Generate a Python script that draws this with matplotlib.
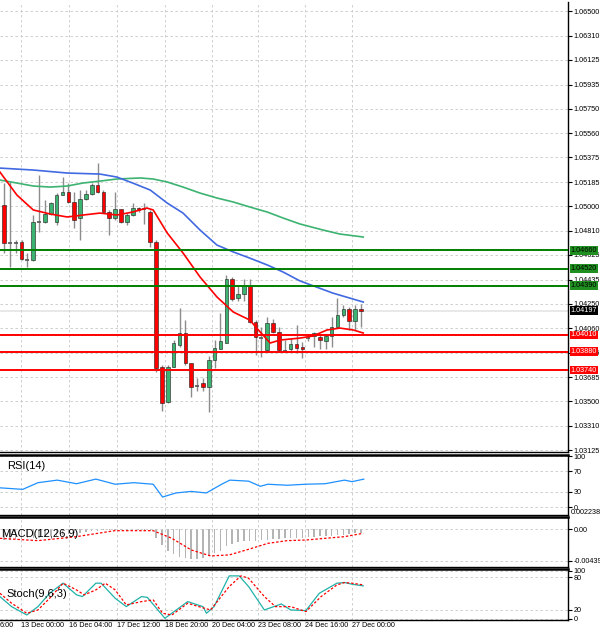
import matplotlib.pyplot as plt
import matplotlib.transforms as mtransforms
import numpy as np

plt.rcParams["font.family"] = "Liberation Sans"

# ---- candles (open, high, low, close) ----
opens = [1.05009, 1.04724, 1.04724, 1.04724, 1.04594, 1.04586, 1.04878, 1.04878, 1.04940, 1.04878,
         1.05086, 1.05109, 1.05032, 1.04909, 1.05055, 1.05094, 1.05163, 1.05109, 1.04955, 1.04909,
         1.04978, 1.04878, 1.04932, 1.04986, 1.04978, 1.04955, 1.04724, 1.03763, 1.03494, 1.03763,
         1.03933, 1.04025, 1.03794, 1.03625, 1.03641, 1.03610, 1.03817, 1.03902, 1.03948, 1.04440,
         1.04294, 1.04325, 1.04387, 1.04109, 1.03994, 1.03894, 1.04102, 1.04032, 1.03894, 1.03902,
         1.03940, 1.03917, 1.03979, 1.04002, 1.03994, 1.03963, 1.04002, 1.04071, 1.04163, 1.04209,
         1.04117, 1.04209]
highs = [1.05178, 1.05186, 1.04740, 1.04740, 1.04640, 1.04932, 1.05240, 1.05047, 1.05032, 1.05101,
         1.05224, 1.05178, 1.05109, 1.05124, 1.05124, 1.05178, 1.05332, 1.05124, 1.04971, 1.05109,
         1.04978, 1.04947, 1.05024, 1.04994, 1.05024, 1.04971, 1.04740, 1.03779, 1.03779, 1.03971,
         1.04217, 1.04125, 1.03794, 1.03679, 1.03679, 1.03848, 1.03971, 1.04179, 1.04471, 1.04456,
         1.04387, 1.04440, 1.04440, 1.04125, 1.04071, 1.04148, 1.04132, 1.04071, 1.03971, 1.03986,
         1.04086, 1.03956, 1.03994, 1.04032, 1.04009, 1.04017, 1.04148, 1.04294, 1.04240, 1.04225,
         1.04240, 1.04248]
lows = [1.04640, 1.04532, 1.04640, 1.04586, 1.04532, 1.04578, 1.04801, 1.04871, 1.04932, 1.04855,
        1.05086, 1.05024, 1.04832, 1.04740, 1.05047, 1.05086, 1.05101, 1.04947, 1.04778, 1.04894,
        1.04871, 1.04855, 1.04924, 1.04955, 1.04863, 1.04686, 1.03725, 1.03425, 1.03487, 1.03763,
        1.03917, 1.03779, 1.03533, 1.03579, 1.03579, 1.03418, 1.03756, 1.03902, 1.03948, 1.04271,
        1.04271, 1.04271, 1.04102, 1.03856, 1.03840, 1.03879, 1.04025, 1.03879, 1.03887, 1.03879,
        1.03871, 1.03833, 1.03963, 1.03917, 1.03902, 1.03902, 1.03917, 1.04071, 1.04148, 1.04048,
        1.04048, 1.04071]
closes = [1.04717, 1.04720, 1.04720, 1.04594, 1.04590, 1.04878, 1.04880, 1.04940, 1.05024, 1.05086,
          1.05109, 1.05032, 1.04894, 1.05055, 1.05094, 1.05163, 1.05109, 1.04955, 1.04909, 1.04978,
          1.04878, 1.04932, 1.04986, 1.04971, 1.04975, 1.04724, 1.03756, 1.03487, 1.03763, 1.03948,
          1.04025, 1.03794, 1.03610, 1.03620, 1.03610, 1.03817, 1.03910, 1.03963, 1.04440, 1.04286,
          1.04325, 1.04387, 1.04109, 1.03994, 1.03990, 1.04102, 1.04032, 1.03894, 1.03890, 1.03940,
          1.03910, 1.03902, 1.03983, 1.04025, 1.03971, 1.04002, 1.04071, 1.04163, 1.04209, 1.04117,
          1.04209, 1.04197]

# ---- moving averages (bar index, price) ----
ma_red_x = [-0.7, 2.2, 5, 7.9, 10.8, 13.5, 16.4, 19.3, 22, 24.4, 25.5, 27.9, 30.6, 33.5, 36.4,
            39.2, 42, 43.8, 45.5, 47.2, 50.6, 52.8, 55.2, 57.4, 59.7, 61.4]
ma_red_y = [1.05263, 1.05086, 1.04971, 1.04940, 1.04917, 1.04932, 1.04947, 1.04932, 1.04955, 1.04986,
            1.04971, 1.04794, 1.04640, 1.04456, 1.04302, 1.04186, 1.04125, 1.04032, 1.03948, 1.03971,
            1.03986, 1.04002, 1.04048, 1.04063, 1.04048, 1.04025]
ma_blue_x = [-0.7, 5, 10.8, 16.4, 19.3, 22, 25, 27.9, 30.6, 33.5, 36.4, 39.2, 42, 45, 47.7, 50.6, 56.2, 61.4]
ma_blue_y = [1.05293, 1.05278, 1.05255, 1.05247, 1.05224, 1.05178, 1.05124, 1.05024, 1.04947, 1.04817,
             1.04701, 1.04648, 1.04601, 1.04548, 1.04494, 1.04425, 1.04332, 1.04263]
ma_green_x = [-0.7, 2.2, 5, 7.9, 10.8, 13.5, 16.4, 19.3, 23.3, 25.5, 27.9, 30.6, 33.5, 36.4, 39.2,
              42, 45, 47.7, 50.6, 54.5, 57.4, 61.4]
ma_green_y = [1.05201, 1.05178, 1.05155, 1.05147, 1.05155, 1.05178, 1.05193, 1.05209, 1.05217, 1.05209,
              1.05186, 1.05147, 1.05101, 1.05063, 1.05032, 1.04994, 1.04955, 1.04909, 1.04863, 1.04817,
              1.04786, 1.04763]

# ---- pivot levels ----
res_names = ["R1", "R2", "R3"]
res_levels = [1.04390, 1.04520, 1.04660]
sup_names = ["S1", "S2", "S3"]
sup_levels = [1.04010, 1.03880, 1.03740]
last_price = 1.04197
price_ticks = [1.06500, 1.06310, 1.06125, 1.05935, 1.05750, 1.05560, 1.05375, 1.05185, 1.05000,
               1.04810, 1.04625, 1.04435, 1.04250, 1.04060, 1.03875, 1.03685, 1.03500, 1.03310, 1.03125]

# ---- indicators ----
rsi_x = [-0.7, 3.2, 5.8, 9.1, 12.4, 15.7, 19, 22.2, 25.5, 27.1, 29.4, 32, 34.6, 37.2, 38.6, 41.8,
         43.8, 45.1, 48.4, 51.6, 54.9, 58.2, 59.5, 61.5]
rsi_y = [38, 35, 48, 53, 46, 55, 45, 48, 45, 20, 28, 31, 28, 45, 53, 51, 41, 45, 43, 45, 46, 53, 50, 55]

macd_hist = [-0.0015, -0.0015, -0.0014, -0.0014, -0.0013, -0.0013, -0.0012, -0.0011, -0.0010, -0.0009,
             -0.0008, -0.0007, -0.0006, -0.0005, -0.0004, -0.0003, -0.0003, -0.0002, -0.0002, -0.0002,
             -0.0001, -0.0001, -0.0001, -0.0001, -0.0001, -0.0003, -0.0012, -0.0022, -0.0030, -0.0035,
             -0.0038, -0.0040, -0.0041, -0.0041, -0.0040, -0.0037, -0.0033, -0.0030, -0.0024, -0.0020,
             -0.0018, -0.0017, -0.0016, -0.0016, -0.0015, -0.0015, -0.0014, -0.0014, -0.0013, -0.0013,
             -0.0012, -0.0012, -0.0011, -0.0011, -0.0010, -0.0010, -0.0009, -0.0008, -0.0008, -0.0007,
             -0.0006, -0.0005]
macd_sig_x = [-0.7, 5.8, 12.4, 18.9, 25.5, 28.7, 32, 35.3, 38.5, 41.8, 45.1, 48.4, 51.6, 54.9, 58.2, 61.4]
macd_sig_y = [-0.00128, -0.00160, -0.00105, -0.00023, -0.00023, -0.00128, -0.00288, -0.00370, -0.00356,
              -0.00279, -0.00197, -0.00160, -0.00151, -0.00128, -0.00105, -0.00059]

stoch_main_x = [-0.7, 1.3, 3.9, 5.8, 7.8, 10.1, 12.4, 13.4, 15.7, 16.6, 19, 20.9, 23.5, 24.5, 27.5,
                31.4, 34, 34.6, 35.9, 38.5, 40.2, 41.8, 44.5, 47.4, 49, 51.6, 53.9, 56.9, 58.2, 59.5, 61.4]
stoch_main_y = [44.5, 26.1, 10.8, 26.1, 50.6, 69, 47.6, 44.5, 69, 69, 41.4, 26.1, 44.5, 43, 4.7,
                35.3, 26.1, 13.9, 26.1, 82.4, 82.4, 62.9, 20, 31, 20, 18.8, 50.6, 69, 70.2, 67.1, 64.1]
stoch_sig_x = [-0.7, 1.3, 3.9, 5.8, 7.8, 10.1, 12.4, 13.7, 15.7, 17.3, 19, 20.9, 23.5, 25.5, 27.1,
               28.7, 31.4, 33.3, 35.3, 38.5, 40.5, 41.8, 44.5, 46.4, 49, 51.6, 54.2, 56.9, 58.2, 59.5, 61.4]
stoch_sig_y = [50.6, 32.3, 13.9, 20, 41.4, 69, 56.7, 47.6, 56.7, 69, 56.7, 29.2, 35.3, 38.4, 13.9,
               10.8, 32.3, 26.1, 20, 62.9, 82.4, 78.2, 44.5, 26.1, 26.1, 17, 44.5, 65.9, 70.2, 69, 65.9]

time_tick_pos = [2.9, 11.1, 19.3, 27.5, 35.6, 43.4, 51.5, 59.5]
time_tick_labels = ["13 Dec 00:00", "16 Dec 04:00", "17 Dec 12:00", "18 Dec 20:00",
                    "20 Dec 04:00", "23 Dec 08:00", "24 Dec 16:00", "27 Dec 00:00"]

BULL = "#3cb371"
BEAR = "#ff0000"
GRID = "#c8c8c8"
XLIM = (-0.684, 96.4)
LBL = 5.2

fig = plt.figure(figsize=(6, 6.35), dpi=100)
R = 568 / 600


def panel(top_px, bot_px):
    ax = fig.add_axes([0, 1 - bot_px / 635, R, (bot_px - top_px) / 635])
    ax.set_xlim(*XLIM)
    ax.yaxis.tick_right()
    ax.tick_params(axis="y", labelsize=LBL, length=3, pad=1.0)
    ax.tick_params(axis="x", length=0, labelbottom=False)
    ax.set_xticks(time_tick_pos)
    ax.grid(True, color=GRID, ls=(0, (3, 3)), lw=0.6)
    for s in ax.spines.values():
        s.set_linewidth(1.0)
    ax.spines["left"].set_visible(False)
    ax.spines["top"].set_linewidth(1.8)
    return ax


# ---- main price panel ----
ax = panel(2, 452)
ax.spines["top"].set_visible(False)
ax.set_ylim(1.03110, 1.06570)
ax.set_yticks(price_ticks)
ax.set_yticklabels([f"{v:.5f}" for v in price_ticks])

idx = np.arange(len(opens))
for i, o, h, l, c in zip(idx, opens, highs, lows, closes):
    ax.vlines(i, l, h, color="#8c8c8c", lw=1.0, zorder=3)
    if abs(c - o) < 0.00005:
        ax.hlines(c, i - 0.35, i + 0.35, color="#555555", lw=1.2, zorder=4)
        continue
    col = BULL if c > o else BEAR
    ax.bar(i, abs(c - o), bottom=min(o, c), width=0.62, color=col,
           edgecolor="#1a1a1a", lw=0.4, zorder=4)

ax.plot(ma_green_x, ma_green_y, color="#3cb371", lw=1.2, zorder=5)
ax.plot(ma_blue_x, ma_blue_y, color="#4169e1", lw=1.2, zorder=5)
ax.plot(ma_red_x, ma_red_y, color="#ff0000", lw=1.2, zorder=5)

ax.axhline(last_price, color="#e4e4e4", lw=1.2, zorder=1)
tr = mtransforms.blended_transform_factory(ax.transAxes, ax.transData)
box = dict(boxstyle="square,pad=0.12", ec="none")
for name, lvl in zip(res_names, res_levels):
    ax.axhline(lvl, color="#008000", lw=1.4, zorder=6)
    ax.text(524, lvl - 0.00012, name, color="#2e9e2e", fontsize=7, va="top", ha="center")
    ax.text(1.005, lvl, f"{lvl:.5f}", transform=tr, fontsize=LBL, va="center", ha="left",
            color="black", bbox=dict(box, fc="#1f8f1f"), zorder=10)
for name, lvl in zip(sup_names, sup_levels):
    ax.axhline(lvl, color="#ff0000", lw=1.4, zorder=6)
    ax.text(524, lvl - 0.00012, name, color="#ff3030", fontsize=7, va="top", ha="center")
    ax.text(1.005, lvl, f"{lvl:.5f}", transform=tr, fontsize=LBL, va="center", ha="left",
            color="white", bbox=dict(box, fc="#ff0000"), zorder=10)
ax.text(1.005, last_price, f"{last_price:.5f}", transform=tr, fontsize=LBL, va="center", ha="left",
        color="white", bbox=dict(box, fc="black"), zorder=10)
ax.set_xlim(*XLIM)

# ---- RSI ----
ax_rsi = panel(455, 515)
ax_rsi.set_ylim(-15, 102)
ax_rsi.set_yticks([100, 70, 30, 0])
ax_rsi.plot(rsi_x, rsi_y, color="#1e90ff", lw=0.9)
ax_rsi.text(0.5, 80, "RSI(14)", fontsize=8, va="center")

# ---- MACD ----
ax_macd = panel(517, 567)
ax_macd.set_ylim(-0.00522, 0.00165)
ax_macd.set_yticks([0.0, -0.004393])
ax_macd.set_yticklabels(["0.00", "-0.004393"])
ax_macd.text(1.005, 0.002238, "0.002238", transform=mtransforms.blended_transform_factory(
    ax_macd.transAxes, ax_macd.transData), fontsize=LBL, va="center", clip_on=False)
ax_macd.bar(idx, macd_hist, width=0.25, color="#b4b4b4")
ax_macd.plot(macd_sig_x, macd_sig_y, color="#ff0000", lw=0.9, ls=(0, (2, 1.5)))
ax_macd.text(-0.5, -0.00075, "MACD(12,26,9)", fontsize=8, va="center")

# ---- Stochastic ----
ax_st = panel(569, 620)
ax_st.set_ylim(1.6, 95)
ax_st.set_yticks([92, 80, 20, 4])
ax_st.set_yticklabels(["100", "80", "20", "0"])
ax_st.plot(stoch_main_x, stoch_main_y, color="#20b2aa", lw=0.9)
ax_st.plot(stoch_sig_x, stoch_sig_y, color="#ff0000", lw=0.9, ls=(0, (2, 1.5)))
ax_st.text(0.5, 50, "Stoch(9,6,3)", fontsize=8, va="center")
ax_st.tick_params(axis="x", labelbottom=True, labelsize=LBL, pad=1.5)
ax_st.set_xticklabels(time_tick_labels, ha="left")
ax_st.text(0.0, -0.03, "6:00", transform=ax_st.transAxes, fontsize=LBL, va="top")

fig.savefig("out.png", dpi=100)
